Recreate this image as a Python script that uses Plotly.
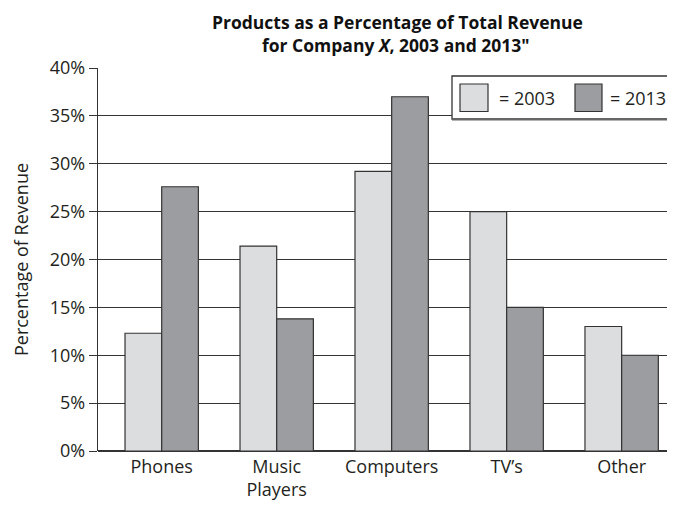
import plotly.graph_objects as go

categories = ["Phones", "Music<br>Players", "Computers", "TV’s", "Other"]
rev_2003 = [12.3, 21.4, 29.2, 25.0, 13.0]
rev_2013 = [27.6, 13.8, 37.0, 15.0, 10.0]
series_names = ["2003", "2013"]
y_ticks = [0, 5, 10, 15, 20, 25, 30, 35, 40]
y_ticktext = [f"{v}%" for v in y_ticks]

C2003 = "#dcdddf"
C2013 = "#9c9da1"
EDGE = "#333333"
TXT = "#231f20"
FONT = "Open Sans"

# page has an 8px body margin; figure placed so plot area sits at window px 98..675 x 68..451
OFF = 8
W, H = 675 - OFF, 508 - OFF
PL, PR, PT, PB = 98, 675, 68, 451  # plot area in window pixels
L, T = PL - OFF, PT - OFF
R = 0
B = H - T - (PB - PT)
PW = PR - PL
PH = PB - PT

def px(x):
    return (x - PL) / PW

def py(y):
    return 1 - (y - PT) / PH

fig = go.Figure()
fig.add_trace(go.Bar(x=categories, y=rev_2003, name=series_names[0],
                     marker=dict(color=C2003, line=dict(color=EDGE, width=1.2)),
                     showlegend=False))
fig.add_trace(go.Bar(x=categories, y=rev_2013, name=series_names[1],
                     marker=dict(color=C2013, line=dict(color=EDGE, width=1.2)),
                     showlegend=False))

shapes = []
shapes.append(dict(type="rect", xref="paper", yref="paper",
                   x0=px(452), x1=px(700), y0=py(119), y1=py(76),
                   line=dict(color=EDGE, width=1.3), fillcolor="white", layer="above"))
shapes.append(dict(type="line", xref="paper", yref="paper",
                   x0=px(452), x1=px(700), y0=py(119.5), y1=py(119.5),
                   line=dict(color="#666666", width=2), layer="above"))
shapes.append(dict(type="rect", xref="paper", yref="paper",
                   x0=px(460), x1=px(488), y0=py(111.5), y1=py(84),
                   line=dict(color=EDGE, width=1.2), fillcolor=C2003, layer="above"))
shapes.append(dict(type="rect", xref="paper", yref="paper",
                   x0=px(575), x1=px(602), y0=py(111.5), y1=py(84),
                   line=dict(color=EDGE, width=1.2), fillcolor=C2013, layer="above"))

annotations = [
    dict(text="= " + series_names[0], xref="paper", yref="paper", x=px(497), y=py(98),
         xanchor="left", yanchor="middle", showarrow=False,
         font=dict(family=FONT, size=18, color=TXT)),
    dict(text="= " + series_names[1], xref="paper", yref="paper", x=px(608), y=py(98),
         xanchor="left", yanchor="middle", showarrow=False,
         font=dict(family=FONT, size=18, color=TXT)),
    dict(text="<b>Products as a Percentage of Total Revenue</b>",
         xref="paper", yref="paper", x=px(397), y=py(21.5), xanchor="center", yanchor="middle",
         showarrow=False, borderpad=0, font=dict(family=FONT, size=17.5, color="#111111")),
    dict(text="<b>for Company <i>X</i>, 2003 and 2013\"</b>",
         xref="paper", yref="paper", x=px(396), y=py(45), xanchor="center", yanchor="middle",
         showarrow=False, borderpad=0, font=dict(family=FONT, size=17.5, color="#111111")),
]

fig.update_layout(
    width=W, height=H,
    margin=dict(l=L, r=R, t=T, b=B, pad=0),
    paper_bgcolor="white", plot_bgcolor="white",
    barmode="group", bargap=0.362, bargroupgap=0,
    font=dict(family=FONT, size=18, color=TXT),
    shapes=shapes, annotations=annotations,
    xaxis=dict(range=[-0.554, 4.464], showgrid=False, ticks="", showline=False,
               automargin=False, ticklabelstandoff=3,
               tickfont=dict(family=FONT, size=18, color=TXT), fixedrange=True),
    yaxis=dict(range=[0, 40], tickvals=y_ticks, ticktext=y_ticktext,
               automargin=False,
               showgrid=True, gridcolor=EDGE, gridwidth=1.3,
               zeroline=True, zerolinecolor=EDGE, zerolinewidth=1.5,
               showline=True, linecolor=EDGE, linewidth=1.3,
               ticks="outside", ticklen=8, tickcolor=EDGE, tickwidth=1.3,
               tickfont=dict(family=FONT, size=18, color=TXT),
               title=dict(text="Percentage of Revenue", standoff=16,
                          font=dict(family=FONT, size=18, color=TXT))),
)

fig.write_html("out.html")
